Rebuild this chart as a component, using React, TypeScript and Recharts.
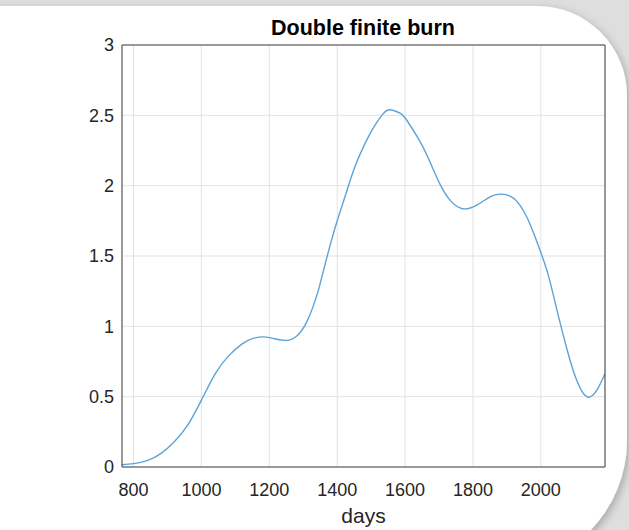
import React from 'react';
import { LineChart, Line, XAxis, YAxis, CartesianGrid } from 'recharts';

// values
const days = [
  766, 800, 840, 880, 920, 960, 1000, 1040, 1080, 1120, 1150, 1185, 1215, 1250, 1280,
  1310, 1340, 1360, 1390, 1420, 1450, 1480, 1510, 1535, 1555, 1585, 1605, 1645, 1675,
  1705, 1735, 1770, 1810, 1850, 1880, 1920, 1960, 1990, 2020, 2050, 2080, 2105, 2135,
  2165, 2189,
];
const burn = [
  0.016, 0.024, 0.045, 0.095, 0.18, 0.3, 0.475, 0.66, 0.79, 0.875, 0.913, 0.925, 0.912, 0.9, 0.93,
  1.03, 1.22, 1.4, 1.67, 1.9, 2.12, 2.29, 2.425, 2.51, 2.54, 2.515, 2.465, 2.31, 2.16,
  2.0, 1.89, 1.836, 1.86, 1.92, 1.94, 1.91, 1.77, 1.59, 1.38, 1.09, 0.81, 0.62, 0.5,
  0.546, 0.665,
];
const xTicks = [800, 1000, 1200, 1400, 1600, 1800, 2000];
const yTicks = [0, 0.5, 1, 1.5, 2, 2.5, 3];

const data = days.map((d, i) => ({ day: d, value: burn[i] }));

const FONT = '"Liberation Sans", Arial, sans-serif';
const AXIS = '#404040';
const TEXT = '#262626';
const xDomain = [766, 2189];

const App: React.FC = () => {
  return (
    <div style={{ position: 'absolute', left: 0, top: 0, width: 629, height: 530 }}>
      {/* slide background + title */}
      <svg width={629} height={530} style={{ position: 'absolute', left: 0, top: 0 }}>
        <defs>
          <filter id="sh" x="-10%" y="-10%" width="130%" height="130%">
            <feDropShadow dx="2" dy="3" stdDeviation="4" floodColor="#000" floodOpacity="0.25" />
          </filter>
        </defs>
        <rect width={629} height={530} fill="#dedede" />
        <path
          d="M -20 6 H 537 A 90 90 0 0 1 627 96 V 440 A 130 130 0 0 1 497 570 H -20 Z"
          fill="#fff"
          filter="url(#sh)"
        />
        <text
          x={363}
          y={35}
          textAnchor="middle"
          fontFamily={FONT}
          fontWeight="bold"
          fontSize={21.5}
          fill="#000"
        >
          Double finite burn
        </text>
      </svg>
      <div style={{ position: 'absolute', left: 0, top: 0 }}>
        <LineChart width={629} height={530} data={data} margin={{ top: 45, right: 24, bottom: 0, left: 0 }}>
          <CartesianGrid stroke="#e3e3e3" />
          <XAxis
            dataKey="day"
            type="number"
            domain={xDomain}
            allowDataOverflow
            ticks={xTicks}
            height={63}
            tickLine={false}
            tickSize={6}
            tickMargin={10}
            axisLine={{ stroke: AXIS }}
            tick={{ fill: TEXT, fontSize: 18, fontFamily: FONT }}
            label={{ value: 'days', position: 'insideBottom', offset: 7, fill: TEXT, fontSize: 21, fontFamily: FONT }}
          />
          <XAxis
            xAxisId="xb"
            dataKey="day"
            type="number"
            domain={xDomain}
            allowDataOverflow
            ticks={xTicks}
            orientation="bottom"
            mirror
            tick={false}
            axisLine={false}
            tickSize={5}
            stroke={AXIS}
          />
          <XAxis
            xAxisId="xt"
            dataKey="day"
            type="number"
            domain={xDomain}
            allowDataOverflow
            ticks={xTicks}
            orientation="top"
            mirror
            tick={false}
            axisLine={{ stroke: AXIS }}
            tickSize={5}
            stroke={AXIS}
          />
          <YAxis
            type="number"
            domain={[0, 3]}
            ticks={yTicks}
            width={122}
            tickLine={false}
            tickSize={6}
            tickMargin={2}
            axisLine={{ stroke: AXIS }}
            tick={{ fill: TEXT, fontSize: 18, fontFamily: FONT }}
          />
          <YAxis
            yAxisId="yl"
            type="number"
            domain={[0, 3]}
            ticks={yTicks}
            orientation="left"
            mirror
            tick={false}
            axisLine={false}
            tickSize={5}
            stroke={AXIS}
          />
          <YAxis
            yAxisId="yr"
            type="number"
            domain={[0, 3]}
            ticks={yTicks}
            orientation="right"
            mirror
            tick={false}
            axisLine={{ stroke: AXIS }}
            tickSize={5}
            stroke={AXIS}
          />
          <Line
            type="natural"
            dataKey="value"
            stroke="#5ba3d9"
            strokeWidth={1.4}
            dot={false}
            isAnimationActive={false}
          />
        </LineChart>
      </div>
    </div>
  );
};

export default App;
